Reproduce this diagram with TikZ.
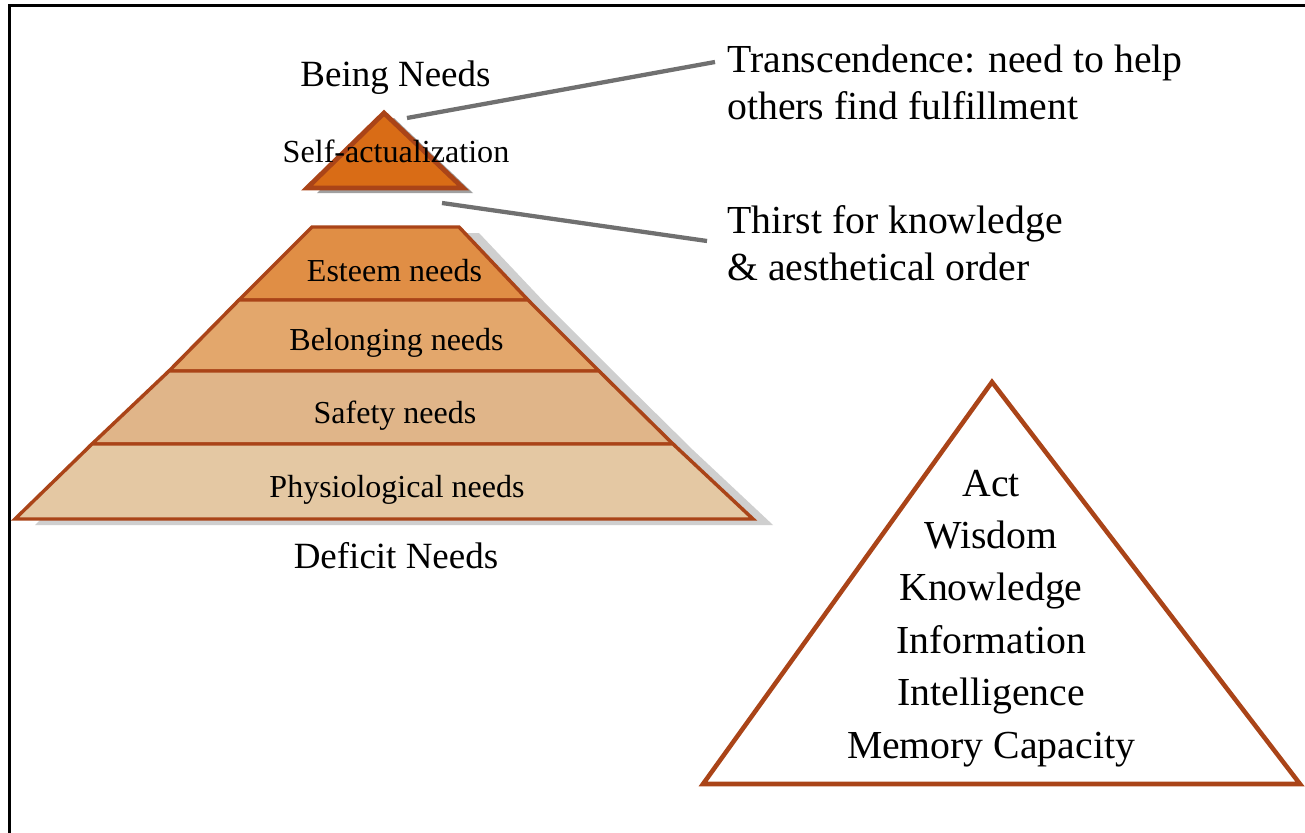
\documentclass[tikz,border=0pt]{standalone}
\usepackage{fontspec}
\setmainfont{Liberation Serif}
\definecolor{edgebrown}{RGB}{170,68,24}
\definecolor{topfill}{RGB}{217,108,22}
\definecolor{esteemfill}{RGB}{224,142,69}
\definecolor{belongfill}{RGB}{227,167,108}
\definecolor{safetyfill}{RGB}{224,181,137}
\definecolor{physfill}{RGB}{228,200,163}
\definecolor{shadowgray}{RGB}{207,207,207}
\definecolor{darkshadow}{RGB}{160,160,160}
\definecolor{callout}{RGB}{112,112,112}
\begin{document}
\begin{tikzpicture}[x=0.75pt,y=-0.75pt,
  frameline/.style={line width=2pt,draw=black},
  layerbox/.style={draw=edgebrown,line width=2.6pt,line join=miter},
  toptri/.style={draw=edgebrown,fill=topfill,line width=3.6pt,line join=miter},
  bigtri/.style={draw=edgebrown,line width=3.4pt,line join=miter},
  calloutline/.style={draw=callout,line width=3.2pt},
  biglabel/.style={inner sep=0pt,align=left,font=\fontsize{29.8pt}{34.7pt}\selectfont},
  listlabel/.style={inner sep=0pt,align=center,font=\fontsize{29.8pt}{39.3pt}\selectfont},
  headlabel/.style={inner sep=0pt,font=\fontsize{27.75pt}{33pt}\selectfont},
  layerlabel/.style={inner sep=0pt,font=\fontsize{24pt}{28pt}\selectfont}]
\useasboundingbox (0,0) rectangle (1305,832);
\clip (0,0) rectangle (1305,832);
\fill[white] (0,0) rectangle (1305,832);
% frame
\draw[frameline] (9.7,850) -- (9.7,5.5) -- (1330,5.5);
% pyramid shadow
\begin{scope}[shift={(20,6)}]
  \fill[shadowgray] (312,227) -- (459,227) -- (528,300) -- (599,371) -- (673,444) -- (753,519) -- (15,519) -- cycle;
\end{scope}
% pyramid layers
\filldraw[layerbox,fill=esteemfill] (312,227) -- (459,227) -- (528,300) -- (239,300) -- cycle;
\filldraw[layerbox,fill=belongfill] (239,300) -- (528,300) -- (599,371) -- (169,371) -- cycle;
\filldraw[layerbox,fill=safetyfill] (169,371) -- (599,371) -- (673,444) -- (92,444) -- cycle;
\filldraw[layerbox,fill=physfill] (92,444) -- (673,444) -- (753,519) -- (15,519) -- cycle;
% top triangle
\begin{scope}[shift={(10,5)}]
  \fill[darkshadow] (384,113) -- (463,188) -- (307,188) -- cycle;
\end{scope}
\filldraw[toptri] (384,113) -- (463,188) -- (307,188) -- cycle;
% labels
\node[headlabel,anchor=base] (being) at (395.5,86) {Being Needs};
\node[layerlabel,anchor=base] (deficit) at (396,568) [font=\fontsize{27.75pt}{33pt}\selectfont] {Deficit Needs};
\node[layerlabel,anchor=base,font=\fontsize{24.1pt}{28pt}\selectfont] (selfact) at (396,162) {Self-actualization};
\node[layerlabel,anchor=base] (esteem) at (394.5,281) {Esteem needs};
\node[layerlabel,anchor=base] (belong) at (396.5,350) {Belonging needs};
\node[layerlabel,anchor=base] (safety) at (395,423) {Safety needs};
\node[layerlabel,anchor=base] (physio) at (397,497) {Physiological needs};
% callouts
\node[biglabel,anchor=base west] (trans) at (727,119) {Transcendence: need to help\\others find fulfillment};
\node[biglabel,anchor=base west] (thirst) at (727,280) {Thirst for knowledge\\\&~aesthetical order};
\coordinate (s1) at (407,118);
\coordinate (e1) at (715,62);
\coordinate (s2) at (442,203);
\coordinate (e2) at (707,241);
\draw[calloutline] (s1) -- (e1);
\draw[calloutline] (s2) -- (e2);
% big triangle
\draw[bigtri] (992,382) -- (1300,784) -- (703,784) -- cycle;
\node[listlabel,anchor=base] (list) at (991,758) {Act\\Wisdom\\Knowledge\\Information\\Intelligence\\Memory Capacity};
\end{tikzpicture}
\end{document}
